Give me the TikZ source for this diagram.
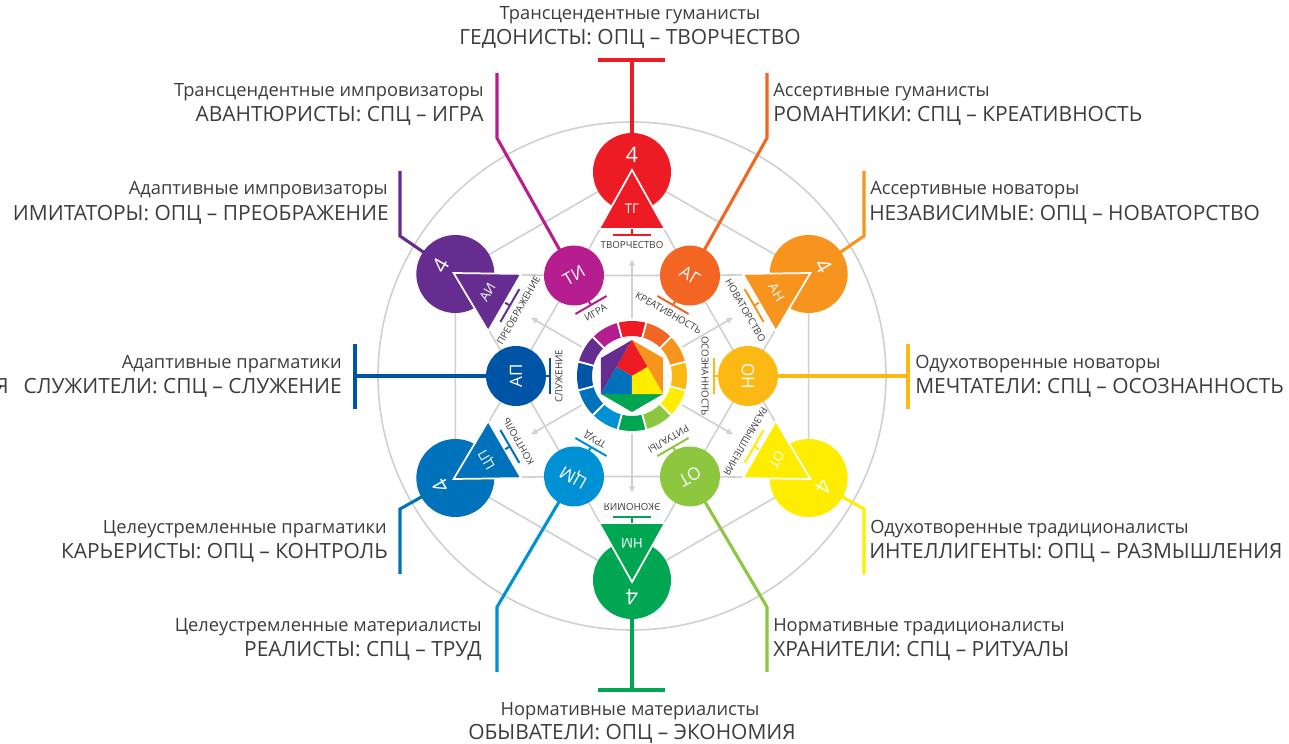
\documentclass[tikz,border=0pt]{standalone}
\usepackage{fontspec}
\setmainfont{Open Sans}
\usetikzlibrary{arrows.meta}

\definecolor{cTG}{RGB}{237,28,36}
\definecolor{cAG}{RGB}{242,101,34}
\definecolor{cAN}{RGB}{247,148,29}
\definecolor{cON}{RGB}{253,185,19}
\definecolor{cOTy}{RGB}{255,237,0}
\definecolor{cOTl}{RGB}{141,198,63}
\definecolor{cNM}{RGB}{0,166,81}
\definecolor{cCM}{RGB}{0,145,213}
\definecolor{cCP}{RGB}{0,114,188}
\definecolor{cAP}{RGB}{0,84,166}
\definecolor{cAI}{RGB}{102,45,145}
\definecolor{cTI}{RGB}{182,29,142}
\definecolor{linegray}{RGB}{208,208,208}
\definecolor{txtgray}{RGB}{60,60,60}

\tikzset{
  bigtxt/.style={text=txtgray, inner sep=0pt, font=\fontsize{15.7}{18}\selectfont},
  midtxt/.style={text=txtgray, inner sep=0pt, font=\fontsize{13.7}{16}\selectfont},
  tinytxt/.style={text=txtgray, inner sep=0pt, font=\fontsize{7.3}{9}\selectfont},
  codetxt/.style={text=white, inner sep=0pt},
  gridline/.style={draw=linegray, line width=1.2pt},
  connline/.style={line width=2.3pt},
  barline/.style={line width=1.5pt}
}

\begin{document}
\begin{tikzpicture}[x=0.75pt,y=0.75pt]
    \useasboundingbox (-632,-367) rectangle (657,376);

    %Coordinates: outer and inner places
    \foreach \a/\nm in {90/TG,30/AN,-30/OTy,-90/NM,-150/CP,150/AI}
        \coordinate (\nm) at (\a:204);
    \foreach \a/\nm in {60/AG,0/ON,-60/OTl,-120/CM,180/AP,120/TI}
        \coordinate (\nm) at (\a:116);

    %Shape: Circle
    \draw[gridline] (0,0) circle (254);
    %Shape: Hexagons
    \draw[gridline] (TG) -- (AN) -- (OTy) -- (NM) -- (CP) -- (AI) -- cycle;
    \draw[gridline] (AG) -- (ON) -- (OTl) -- (CM) -- (AP) -- (TI) -- cycle;
    \draw[gridline] (TG) -- (AG) -- (AN) -- (ON) -- (OTy) -- (OTl) -- (NM) -- (CM) -- (CP) -- (AP) -- (AI) -- (TI) -- cycle;
    %Straight Lines: arrows
    \foreach \a in {90,30,-30,-90,-150,150}
        \draw[gridline, -{Latex[length=5pt,width=5pt]}] (\a:58) -- (\a:117);

    %Connectors
    \coordinate (kTG) at (0,316);
    \coordinate (kNM) at (0,-314);
    \coordinate (kTI1) at (-135,303);  \coordinate (kTI2) at (-135,238);
    \coordinate (kAG1) at (135,303);   \coordinate (kAG2) at (135,238);
    \coordinate (kAI1) at (-232,205);  \coordinate (kAI2) at (-232,140);
    \coordinate (kAN1) at (232,205);   \coordinate (kAN2) at (232,140);
    \coordinate (kAP1) at (-277,32);   \coordinate (kAP2) at (-277,-33);  \coordinate (kAP0) at (-277,0);
    \coordinate (kON1) at (276,32);    \coordinate (kON2) at (276,-33);   \coordinate (kON0) at (276,0);
    \coordinate (kCP1) at (-232,-198); \coordinate (kCP2) at (-232,-133);
    \coordinate (kOTy1) at (232,-198); \coordinate (kOTy2) at (232,-133);
    \coordinate (kCM1) at (-135,-296); \coordinate (kCM2) at (-135,-231);
    \coordinate (kOTl1) at (135,-296); \coordinate (kOTl2) at (135,-231);

    \draw[connline, cTG] (TG) -- (kTG);
    \draw[connline, cTG] ([xshift=-25.5pt]kTG) -- ([xshift=24.75pt]kTG);
    \draw[connline, cNM] (NM) -- (kNM);
    \draw[connline, cNM] ([xshift=-25.5pt]kNM) -- ([xshift=24.75pt]kNM);
    \draw[connline, cTI] (kTI1) -- (kTI2) -- (TI);
    \draw[connline, cAG] (kAG1) -- (kAG2) -- (AG);
    \draw[connline, cAI] (kAI1) -- (kAI2) -- (AI);
    \draw[connline, cAN] (kAN1) -- (kAN2) -- (AN);
    \draw[connline, cAP] (kAP1) -- (kAP2);
    \draw[connline, cAP] (kAP0) -- (AP);
    \draw[connline, cON] (kON1) -- (kON2);
    \draw[connline, cON] (kON0) -- (ON);
    \draw[connline, cCP] (kCP1) -- (kCP2) -- (CP);
    \draw[connline, cOTy] (kOTy1) -- (kOTy2) -- (OTy);
    \draw[connline, cCM] (kCM1) -- (kCM2) -- (CM);
    \draw[connline, cOTl] (kOTl1) -- (kOTl2) -- (OTl);

    %Shape: colour ring
    \foreach \a/\col in {90/cTG,60/cAG,30/cAN,0/cON,-30/cOTy,-60/cOTl,-90/cNM,-120/cCM,-150/cCP,180/cAP,150/cAI,120/cTI}
        \fill[\col] ({\a-15}:40) arc[start angle=\a-15, end angle=\a+15, radius=40] -- ({\a+15}:55) arc[start angle=\a+15, end angle=\a-15, radius=55] -- cycle;
    \foreach \a in {15,45,...,345}
        \draw[white, line width=1.4pt] (\a:37) -- (\a:58);

    %Shape: colour star
    \coordinate (hT) at (0,36);     \coordinate (hB) at (0,-36);
    \coordinate (hUL) at (-31,18);  \coordinate (hLL) at (-31,-18);
    \coordinate (hUR) at (31,18);   \coordinate (hLR) at (31,-18);
    \coordinate (hML) at (-15.5,9); \coordinate (hMR) at (15.5,9);
    \coordinate (hMB) at (0,-18);   \coordinate (hO) at (0,0);
    \fill[cAI] (hT) -- (hUL) -- (hLL) -- cycle;
    \fill[cAN] (hT) -- (hUR) -- (hLR) -- cycle;
    \fill[cNM] (hLL) -- (hLR) -- (hB) -- cycle;
    \fill[cTG] (hT) -- (hML) -- (hO) -- (hMR) -- cycle;
    \fill[cCP] (hML) -- (hLL) -- (hMB) -- (hO) -- cycle;
    \fill[cOTy] (hMR) -- (hLR) -- (hMB) -- (hO) -- cycle;

    %Shape: outer circles with triangles
    \foreach \a/\nm/\col/\code/\lab in {90/TG/cTG/ТГ/ТВОРЧЕСТВО,30/AN/cAN/АН/НОВАТОРСТВО,-30/OTy/cOTy/ОТ/РАЗМЫШЛЕНИЯ,-90/NM/cNM/НМ/ЭКОНОМИЯ,-150/CP/cCP/ЦП/КОНТРОЛЬ,150/AI/cAI/АИ/ПРЕОБРАЖЕНИЕ}{
        \begin{scope}[shift={(\nm)}, rotate=\a-90]
            \fill[\col] (0,0) circle (39);
            \filldraw[fill=\col, draw=white, line width=1.3pt] (0,2) -- (-33,-57) -- (33,-57) -- cycle;
            \draw[barline, \col] (0,-57.5) -- (0,-63) (-19,-63) -- (19,-63);
            \node[codetxt, transform shape, font=\fontsize{16}{18}\selectfont] (four\nm) at (0,17) {4};
            \node[codetxt, transform shape, font=\fontsize{10}{12}\selectfont] (code\nm) at (0,-37) {\code};
            \node[tinytxt, transform shape] (lab\nm) at (0,-73) {\lab};
        \end{scope}
    }

    %Shape: inner circles
    \foreach \a/\nm/\col/\code/\lab in {60/AG/cAG/АГ/КРЕАТИВНОСТЬ,0/ON/cON/ОН/ОСОЗНАННОСТЬ,-60/OTl/cOTl/ОТ/РИТУАЛЫ,-120/CM/cCM/ЦМ/ТРУД,180/AP/cAP/АП/СЛУЖЕНИЕ,120/TI/cTI/ТИ/ИГРА}{
        \begin{scope}[shift={(\nm)}, rotate=\a-90]
            \fill[\col] (0,0) circle (30);
            \draw[barline, \col] (0,-29) -- (0,-34) (-18,-34) -- (18,-34);
            \node[codetxt, transform shape, font=\fontsize{12.8}{14}\selectfont] (code\nm) at (0,0) {\code};
            \node[tinytxt, transform shape] (lab\nm) at (0,-43) {\lab};
        \end{scope}
    }

    % Text Node
    \node[midtxt, anchor=base] (tTG1) at (-2,356) {Трансцендентные гуманисты};
    \node[bigtxt, anchor=base] (tTG2) at (-2,331) {ГЕДОНИСТЫ: ОПЦ – ТВОРЧЕСТВО};
    % Text Node
    \node[midtxt, anchor=base east] (tTI1) at (-148,279) {Трансцендентные импровизаторы};
    \node[bigtxt, anchor=base east] (tTI2) at (-148,254) {АВАНТЮРИСТЫ: СПЦ – ИГРА};
    % Text Node
    \node[midtxt, anchor=base east] (tAI1) at (-244,181) {Адаптивные импровизаторы};
    \node[bigtxt, anchor=base east] (tAI2) at (-243,156) {ИМИТАТОРЫ: ОПЦ – ПРЕОБРАЖЕНИЕ};
    % Text Node
    \node[midtxt, anchor=base east] (tAP1) at (-290,8) {Адаптивные прагматики};
    \node[bigtxt, anchor=base east] (tAP2) at (-290,-17) {СЛУЖИТЕЛИ: СПЦ – СЛУЖЕНИЕ};
    \node[bigtxt, anchor=base east] (tcut) at (-623,-17) {Я};
    % Text Node
    \node[midtxt, anchor=base east] (tCP1) at (-245,-157) {Целеустремленные прагматики};
    \node[bigtxt, anchor=base east] (tCP2) at (-244,-182) {КАРЬЕРИСТЫ: ОПЦ – КОНТРОЛЬ};
    % Text Node
    \node[midtxt, anchor=base east] (tCM1) at (-150,-255) {Целеустремленные материалисты};
    \node[bigtxt, anchor=base east] (tCM2) at (-150,-280) {РЕАЛИСТЫ: СПЦ – ТРУД};
    % Text Node
    \node[midtxt, anchor=base] (tNM1) at (-2,-339) {Нормативные материалисты};
    \node[bigtxt, anchor=base] (tNM2) at (0,-363) {ОБЫВАТЕЛИ: ОПЦ – ЭКОНОМИЯ};
    % Text Node
    \node[midtxt, anchor=base west] (tOTl1) at (141,-255) {Нормативные традиционалисты};
    \node[bigtxt, anchor=base west] (tOTl2) at (141,-280) {ХРАНИТЕЛИ: СПЦ – РИТУАЛЫ};
    % Text Node
    \node[midtxt, anchor=base west] (tOTy1) at (238,-157) {Одухотворенные традиционалисты};
    \node[bigtxt, anchor=base west] (tOTy2) at (237,-182) {ИНТЕЛЛИГЕНТЫ: ОПЦ – РАЗМЫШЛЕНИЯ};
    % Text Node
    \node[midtxt, anchor=base west] (tON1) at (283,8) {Одухотворенные новаторы};
    \node[bigtxt, anchor=base west] (tON2) at (283,-17) {МЕЧТАТЕЛИ: СПЦ – ОСОЗНАННОСТЬ};
    % Text Node
    \node[midtxt, anchor=base west] (tAN1) at (238,181) {Ассертивные новаторы};
    \node[bigtxt, anchor=base west] (tAN2) at (237,156) {НЕЗАВИСИМЫЕ: ОПЦ – НОВАТОРСТВО};
    % Text Node
    \node[midtxt, anchor=base west] (tAG1) at (141,279) {Ассертивные гуманисты};
    \node[bigtxt, anchor=base west] (tAG2) at (141,254) {РОМАНТИКИ: СПЦ – КРЕАТИВНОСТЬ};

\end{tikzpicture}
\end{document}
